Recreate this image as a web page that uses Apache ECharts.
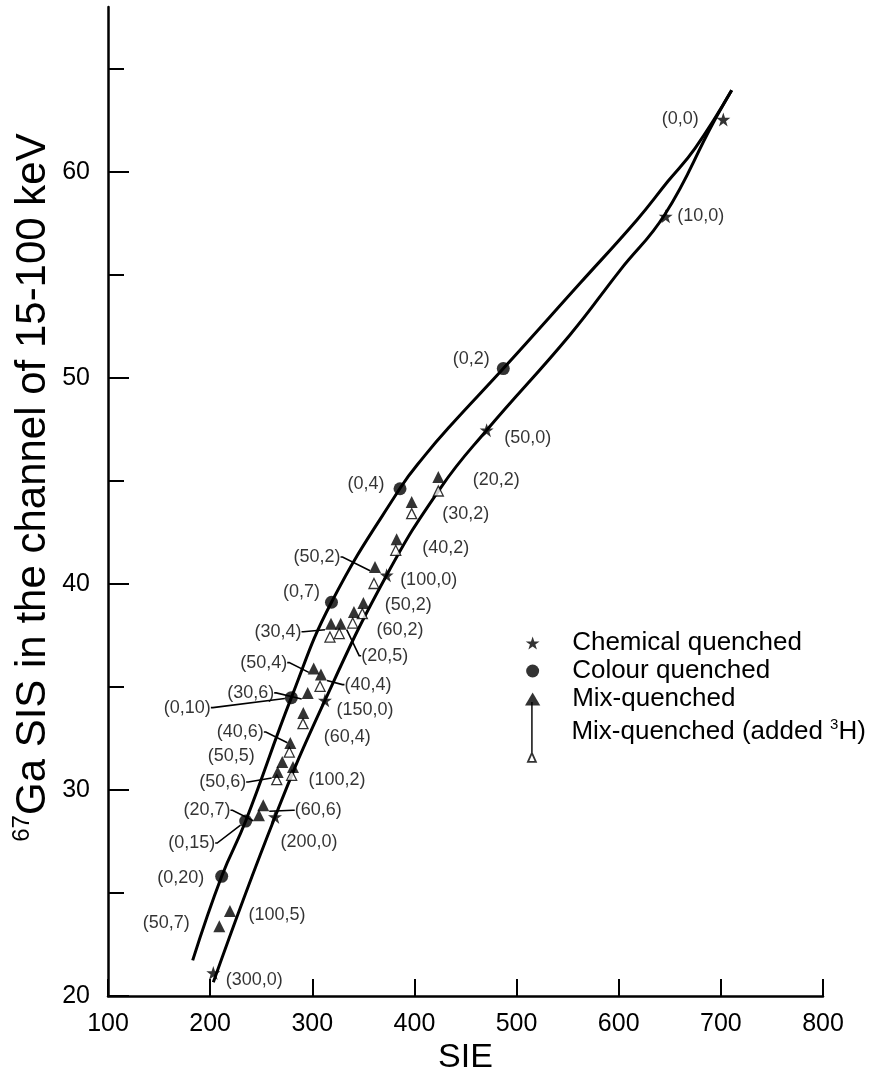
<!DOCTYPE html>
<html>
<head>
<meta charset="utf-8">
<script src="https://cdn.jsdelivr.net/npm/echarts/dist/echarts.min.js"></script>
<style>html,body{margin:0;padding:0;background:#fff}#c{width:881px;height:1079px}</style>
</head>
<body>
<div id="c"></div>
<script>
// ---------------- DATA ----------------
// Chemical quenched (stars)
const chemNames = ['(0,0)', '(10,0)', '(50,0)', '(100,0)', '(150,0)', '(200,0)', '(300,0)'];
const chemSIE   = [702.4, 646.0, 470.7, 372.8, 312.4, 263.5, 203.1];
const chemSIS   = [62.54, 57.84, 47.46, 40.42, 34.35, 28.69, 21.12];

// Colour quenched (circles)
const colourNames = ['(0,2)', '(0,4)', '(0,7)', '(0,10)', '(0,15)', '(0,20)'];
const colourSIE   = [487.0, 385.9, 318.8, 279.5, 234.8, 211.3];
const colourSIS   = [50.45, 44.62, 39.11, 34.48, 28.49, 25.81];

// Mix-quenched (filled triangles)
const mixNames = ['(20,2)', '(30,2)', '(40,2)', '(50,2)', '(50,2)', '(60,2)', '(30,4)', '(20,5)', '(50,4)', '(40,4)',
                  '(30,6)', '(60,4)', '(40,6)', '(50,5)', '(50,6)', '(100,2)', '(60,6)', '(20,7)', '(100,5)', '(50,7)'];
const mixSIE   = [423.4, 397.3, 382.6, 361.4, 350.0, 340.8, 318.3, 327.8, 301.4, 308.5,
                  295.5, 291.2, 278.5, 270.6, 266.1, 281.1, 252.0, 247.8, 219.4, 209.0];
const mixSIS   = [45.19, 43.98, 42.17, 40.82, 39.07, 38.64, 38.07, 38.07, 35.89, 35.60,
                  34.71, 33.74, 32.28, 31.36, 30.87, 31.11, 29.26, 28.77, 24.13, 23.38];

// Mix-quenched with added 3H (open triangles)
const mixHNames = ['(20,2)', '(30,2)', '(40,2)', '(50,2)', '(50,2)', '(60,2)', '(30,4)', '(20,5)', '(40,4)', '(60,4)', '(40,6)', '(50,6)', '(100,2)'];
const mixHSIE   = [423.4, 397.3, 381.7, 360.4, 349.0, 339.6, 317.3, 326.4, 307.6, 290.9, 277.5, 265.2, 279.8];
const mixHSIS   = [44.51, 43.41, 41.63, 40.02, 38.56, 38.10, 37.42, 37.59, 35.03, 33.22, 31.84, 30.50, 30.71];

// Fitted curves
const upperSIE = [182.9, 211.3, 234.8, 279.5, 318.8, 385.9, 410.3, 434.8, 487.0, 562.1, 617.6, 648.2, 674.7, 710.6];
const upperSIS = [21.73, 25.81, 28.49, 34.48, 39.11, 44.64, 46.24, 47.65, 50.45, 54.59, 57.65, 59.54, 61.14, 63.96];
const lowerSIE = [203.1, 263.5, 312.4, 372.8, 426.0, 470.7, 552.0, 601.3, 645.3, 692.3, 710.6];
const lowerSIS = [20.67, 28.69, 34.35, 40.42, 44.69, 47.46, 52.07, 55.22, 57.94, 62.36, 63.96];

// Axis ticks
const xTicks = [100, 200, 300, 400, 500, 600, 700, 800];
const yMajorTicks = [20, 30, 40, 50, 60];
const yMinorTicks = [25, 35, 45, 55, 65];

// ---------------- LAYOUT (label offsets in px, leader flags) ----------------
const chemLabelOffsets = [[-43,0],[35,0],[41,8],[42,5],[40,10],[34,25],[41,7]];
const chemLeaders = [0,0,0,0,0,0,0];
const colourLabelOffsets = [[-32,-10],[-34,-5],[-30,-10],[-104,10],[-54,22],[-41,2]];
const colourLeaders = [0,0,0,1,1,0];
const mixLabelOffsets = [[58,3],[54,12],[49,9],[-58,-10],[45,2],[46,18],[-53,8],[44,32],[-50,-6],[47,10],
                         [-57,0],[44,24],[-50,-11],[-51,-6],[-55,10],[44,13],[55,5],[-52,-5],[47,4],[-53,-3]];
const mixLeaders = [0,0,0,1,0,0,1,1,1,1, 1,0,1,0,1,0,1,1,0,0];

const FONT = "'Liberation Sans',Arial,Helvetica,sans-serif";
const STAR = 'path://M50,0 L61.8,35.1 L98.9,35.1 L68.9,56.7 L80.3,91.9 L50,70 L19.7,91.9 L31.1,56.7 L1.1,35.1 L38.2,35.1 Z';
const TRI = 'path://M0,17 L10,0 L20,17 Z';
const OPEN_ICON = 'path://M5,0 L5,51 M1,60 L5,51 L9,60 Z';

function pts(xs, ys) { return xs.map((x, i) => [x, ys[i]]); }
function items(names, xs, ys, leaders) {
  return names.map((n, i) => ({
    name: n, value: [xs[i], ys[i]],
    labelLine: { show: !!(leaders && leaders[i]) }
  }));
}
function placer(offsets) {
  return function (p) {
    const o = offsets[p.dataIndex] || [0, 0];
    return {
      x: p.rect.x + p.rect.width / 2 + o[0],
      y: p.rect.y + p.rect.height / 2 + o[1],
      align: 'center', verticalAlign: 'middle'
    };
  };
}
const labelStyle = { show: true, formatter: '{b}', color: '#000', fontSize: 18, fontFamily: FONT };
const leaderStyle = { show: false, length2: 2, smooth: false, lineStyle: { color: '#000', width: 1.6 } };

const chart = echarts.init(document.getElementById('c'), null, { renderer: 'canvas' });
const axisTextBase = { color: '#000', fontFamily: FONT };

chart.setOption({
  animation: false,
  backgroundColor: '#fff',
  grid: { left: 108, right: 58, top: 7, bottom: 83, containLabel: false, outerBoundsMode: 'none' },
  xAxis: {
    type: 'value', min: 100, max: 800, interval: 100,
    axisLine: { show: true, onZero: false, lineStyle: { color: '#000', width: 2.5 } },
    axisTick: { show: true, inside: true, length: 17, customValues: xTicks, lineStyle: { color: '#000', width: 2 } },
    axisLabel: Object.assign({ fontSize: 25, margin: 16, customValues: xTicks }, axisTextBase),
    splitLine: { show: false },
    name: 'SIE', nameLocation: 'middle', nameGap: 45, nameMoveOverlap: false,
    nameTextStyle: Object.assign({ fontSize: 34 }, axisTextBase)
  },
  yAxis: [{
    type: 'value', min: 20, max: 68, interval: 5, position: 'left',
    axisLine: { show: true, onZero: false, lineStyle: { color: '#000', width: 2.5 } },
    axisTick: { show: true, inside: true, length: 16, customValues: yMinorTicks, lineStyle: { color: '#000', width: 2 } },
    axisLabel: Object.assign({ fontSize: 25, margin: 18, customValues: yMajorTicks,
      formatter: v => (v % 10 === 0 ? String(v) : '') }, axisTextBase),
    splitLine: { show: false },
    name: '{sup|67}{t|Ga SIS in the channel of 15-100 keV}',
    nameLocation: 'middle', nameGap: 52, nameRotate: 90, nameMoveOverlap: false,
    nameTextStyle: Object.assign({ fontSize: 42, padding: [0, 0, 0, 28], rich: {
      t: { fontSize: 42, lineHeight: 46, fontFamily: FONT, color: '#000' },
      sup: { fontSize: 24, lineHeight: 46, verticalAlign: 'top', fontFamily: FONT, color: '#000' }
    } }, axisTextBase)
  }, {
    type: 'value', min: 20, max: 68, interval: 10, position: 'left', offset: 0,
    axisLine: { show: false },
    axisTick: { show: true, inside: true, length: 21, customValues: yMajorTicks, lineStyle: { color: '#000', width: 2 } },
    axisLabel: { show: false },
    splitLine: { show: false }
  }],
  legend: [{
    orient: 'vertical', left: 525, top: 629, padding: 0, itemGap: 0,
    itemWidth: 69, itemHeight: 13, symbolKeepAspect: true, selectedMode: false,
    data: ['Chemical quenched', 'Colour quenched', { name: 'Mix-quenched', icon: TRI }],
    textStyle: { fontSize: 26, lineHeight: 28, color: '#000', fontFamily: FONT }
  }, {
    orient: 'vertical', left: 527, top: 701, padding: 0,
    itemWidth: 69, itemHeight: 60, symbolKeepAspect: true, selectedMode: false,
    data: [{ name: 'Mix-quenched (added 3H)', icon: OPEN_ICON,
             itemStyle: { color: '#fff', borderColor: '#000', borderWidth: 1.8 } }],
    formatter: () => 'Mix-quenched (added {sup|3}H)',
    textStyle: { fontSize: 26, lineHeight: 30, color: '#000', fontFamily: FONT,
      rich: { sup: { fontSize: 15, lineHeight: 30, verticalAlign: 'top', color: '#000', fontFamily: FONT } } }
  }],
  series: [
    { name: 'upper', type: 'line', data: pts(upperSIE, upperSIS), smooth: 0.45, showSymbol: false, silent: true,
      lineStyle: { color: '#000', width: 3 }, z: 2 },
    { name: 'lower', type: 'line', data: pts(lowerSIE, lowerSIS), smooth: 0.45, showSymbol: false, silent: true,
      lineStyle: { color: '#000', width: 3 }, z: 2 },
    { name: 'Chemical quenched', type: 'scatter', symbol: STAR, symbolSize: 14,
      itemStyle: { color: '#000' }, data: items(chemNames, chemSIE, chemSIS, chemLeaders),
      label: labelStyle, labelLine: leaderStyle, labelLayout: placer(chemLabelOffsets), z: 5 },
    { name: 'Colour quenched', type: 'scatter', symbol: 'circle', symbolSize: 13,
      itemStyle: { color: '#000' }, data: items(colourNames, colourSIE, colourSIS, colourLeaders),
      label: labelStyle, labelLine: leaderStyle, labelLayout: placer(colourLabelOffsets), z: 5 },
    { name: 'Mix-quenched (added 3H)', type: 'scatter', symbol: 'triangle', symbolSize: 10,
      itemStyle: { color: '#fff', borderColor: '#000', borderWidth: 1.3 },
      data: items(mixHNames, mixHSIE, mixHSIS, null), z: 4 },
    { name: 'Mix-quenched', type: 'scatter', symbol: 'triangle', symbolSize: 12,
      itemStyle: { color: '#000' }, data: items(mixNames, mixSIE, mixSIS, mixLeaders),
      label: labelStyle, labelLine: leaderStyle, labelLayout: placer(mixLabelOffsets), z: 5 }
  ]
});
</script>
</body>
</html>
